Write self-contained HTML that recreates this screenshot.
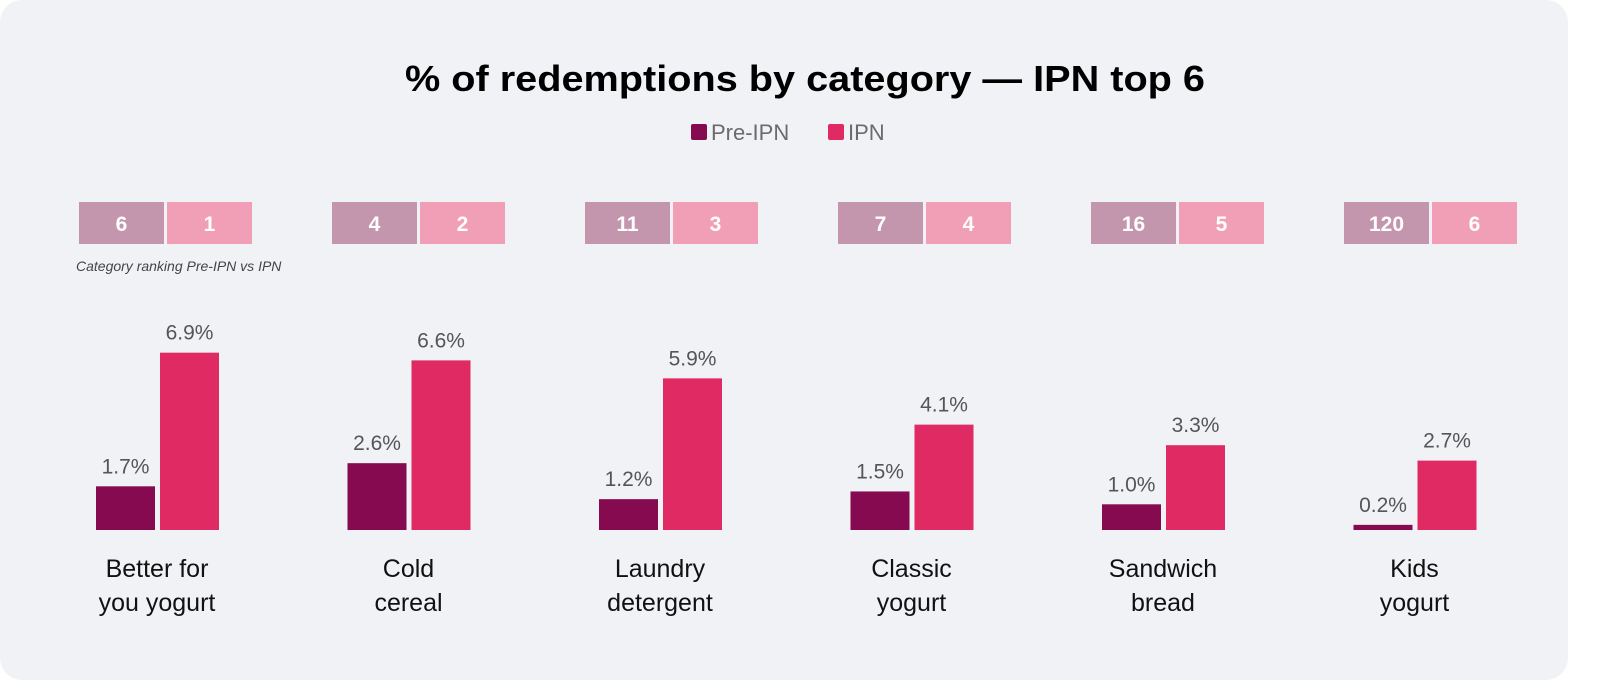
<!DOCTYPE html>
<html><head><meta charset="utf-8"><style>
html,body{margin:0;padding:0;background:#fff;}
svg{display:block;font-family:"Liberation Sans",sans-serif;}
</style></head><body>
<svg id="chart" width="1600" height="695" viewBox="0 0 1600 695">
<rect x="0" y="0" width="1568" height="680" rx="22" fill="#f0f2f6"/>
<text x="805" y="91" text-anchor="middle" font-size="36" font-weight="bold" fill="#000" textLength="800" lengthAdjust="spacingAndGlyphs">% of redemptions by category — IPN top 6</text>
<g>
<rect x="691" y="124" width="16" height="16" rx="2" fill="#850a50"/>
<text x="711" y="140" font-size="22" fill="#6b6b6b">Pre-IPN</text>
<rect x="828" y="124" width="16" height="16" rx="2" fill="#e02a63"/>
<text x="848" y="140" font-size="22" fill="#6b6b6b">IPN</text>
</g>
<text x="76" y="271" font-size="14" font-style="italic" fill="#444">Category ranking Pre-IPN vs IPN</text>
<g id="marks"></g>
</svg>
<script>
const categories = [["Better for","you yogurt"],["Cold","cereal"],["Laundry","detergent"],["Classic","yogurt"],["Sandwich","bread"],["Kids","yogurt"]];
const preValues = [1.7, 2.6, 1.2, 1.5, 1.0, 0.2];
const ipnValues = [6.9, 6.6, 5.9, 4.1, 3.3, 2.7];
const preRanks = ["6","4","11","7","16","120"];
const ipnRanks = ["1","2","3","4","5","6"];

const NS = "http://www.w3.org/2000/svg";
const g = document.getElementById("marks");
const baseY = 530, pxPer = 25.7;
function y(v){ return baseY - v * pxPer; }
function x(i){ return 96 + i * 251.5; }
function mk(tag, attrs, txt){
  const e = document.createElementNS(NS, tag);
  for (const k in attrs) e.setAttribute(k, attrs[k]);
  if (txt !== undefined) e.textContent = txt;
  g.appendChild(e);
  return e;
}
categories.forEach((c, i) => {
  const x0 = x(i);
  const bx = 79 + i * 253;
  let r = mk("rect", {x: bx, y: 202, width: 85, height: 42, fill: "#c496ad"});
  
  
  let t = mk("text", {x: bx + 42.5, y: 231, "text-anchor": "middle", "font-size": 21, "font-weight": "bold", fill: "#fff"}, preRanks[i]);
  
  
  r = mk("rect", {x: bx + 88, y: 202, width: 85, height: 42, fill: "#f09fb7"});
  
  
  t = mk("text", {x: bx + 130.5, y: 231, "text-anchor": "middle", "font-size": 21, "font-weight": "bold", fill: "#fff"}, ipnRanks[i]);
  
  

  const w = 59;
  let b = mk("rect", {x: x0, y: y(preValues[i]), width: w, height: baseY - y(preValues[i]), fill: "#850a50"});
  
  
  t = mk("text", {x: x0 + w/2, y: y(preValues[i]) - 13, "text-anchor": "middle", "font-size": 21, fill: "#555"}, preValues[i].toFixed(1) + "%");
  
  
  b = mk("rect", {x: x0 + 64, y: y(ipnValues[i]), width: w, height: baseY - y(ipnValues[i]), fill: "#e02a63"});
  
  
  t = mk("text", {x: x0 + 64 + w/2, y: y(ipnValues[i]) - 13, "text-anchor": "middle", "font-size": 21, fill: "#555"}, ipnValues[i].toFixed(1) + "%");
  
  

  c.forEach((line, j) => {
    const l = mk("text", {x: x0 + 61, y: 577 + j * 34, "text-anchor": "middle", "font-size": 25, fill: "#111"}, line);
    
    
  });
});
</script>
</body></html>
